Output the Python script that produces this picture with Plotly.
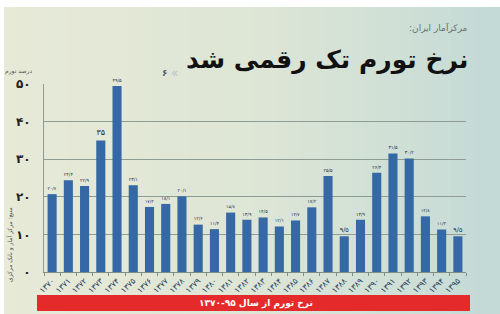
import plotly.graph_objects as go

years = list(range(1370, 1396))
inflation = [20.7, 24.4, 22.9, 35, 49.5, 23.1, 17.3, 18.1, 20.1, 12.6, 11.4, 15.8, 13.9,
             14.5, 12.1, 13.7, 17.2, 25.5, 9.5, 13.9, 26.4, 31.5, 30.2, 14.8, 11.3, 9.5]
y_ticks = [0, 10, 20, 30, 40, 50]

title_text = "نرخ تورم تک رقمی شد"
subtitle_text = "مرکزآمار ایران:\u200f"
y_title = "درصد تورم"
source_text = "منبع: مرکز آمار و بانک مرکزی"
banner_text = "نرخ تورم از سال ۹۵-۱۳۷۰"

FA = str.maketrans("0123456789.", "۰۱۲۳۴۵۶۷۸۹/")


def fa_num(v):
    return f"{v:g}".translate(FA)


cats = [fa_num(y) for y in years]
labels = [fa_num(v) for v in inflation]

W, H = 500, 314
L, R, T, B = 44, 34, 84, 42
PW, PH = W - L - R, H - T - B


def px(x):
    return (x - L) / PW


def py(y):
    return (H - B - y) / PH


FONT = "DejaVu Sans"

fig = go.Figure()
fig.add_trace(go.Bar(
    x=cats, y=inflation, marker=dict(color="#3568a4", line=dict(width=0)),
    text=labels, textposition="outside", cliponaxis=False,
    textfont=dict(family=FONT, size=8, color="#1d2c4c"),
    hoverinfo="skip",
))

shapes = []
stops = [(0.0, (232, 234, 216)), (0.5, (222, 230, 214)), (0.8, (208, 224, 214)), (1.0, (196, 218, 214))]


def lerp_color(t):
    for i in range(len(stops) - 1):
        a, ca = stops[i]
        b, cb = stops[i + 1]
        if a <= t <= b:
            f = (t - a) / (b - a)
            return "rgb(%d,%d,%d)" % tuple(int(ca[k] + (cb[k] - ca[k]) * f) for k in range(3))
    return "rgb(%d,%d,%d)" % stops[-1][1]


N = 40
x0p, x1p = 4, 500
for i in range(N):
    a = x0p + (x1p - x0p) * i / N
    b = x0p + (x1p - x0p) * (i + 1) / N + 0.8
    shapes.append(dict(type="rect", xref="paper", yref="paper", x0=px(a), x1=px(b),
                       y0=py(314), y1=py(7), fillcolor=lerp_color(i / (N - 1)),
                       line=dict(width=0), layer="below"))
shapes.append(dict(type="rect", xref="paper", yref="paper", x0=px(37), x1=px(470),
                   y0=py(311), y1=py(295), fillcolor="#e52a2c", line=dict(width=0), layer="above"))


def ann(text, x, y, size, color, xanchor="center", angle=0):
    return dict(text=text, x=px(x), y=py(y), xref="paper", yref="paper",
                xanchor=xanchor, yanchor="middle", textangle=angle,
                font=dict(family=FONT, size=size, color=color), showarrow=False)


annotations = [
    ann("<b>" + title_text + "</b>", 470, 60, 25, "#111111", "right"),
    ann(subtitle_text, 470, 27, 9, "#6a6f6a", "right"),
    ann(y_title, 34, 71, 6, "#555555", "right"),
    ann(source_text, 10, 245, 6, "#555555", "center", -90),
    ann("<b>" + banner_text + "</b>", 256, 303, 9, "#ffffff"),
    ann("«", 174, 73, 12, "#b9c3cc"),
    ann("<b>۶</b>", 165, 73, 9, "#556070"),
]

fig.update_layout(
    width=W, height=H, margin=dict(l=L, r=R, t=T, b=B),
    paper_bgcolor="#ffffff", plot_bgcolor="rgba(0,0,0,0)",
    bargap=0.44, showlegend=False, shapes=shapes, annotations=annotations,
    font=dict(family=FONT),
)
fig.update_xaxes(
    type="category", tickangle=-45, tickfont=dict(family=FONT, size=8, color="#24385a"),
    showgrid=False, showline=True, linecolor="#7f8f88", linewidth=1,
    ticks="outside", ticklen=3, tickcolor="#7f8f88", tickson="boundaries",
    range=[-0.5, len(cats) - 0.5],
)
fig.update_yaxes(
    range=[0, 50], tickvals=y_ticks, ticktext=["<b>" + fa_num(v) + "</b>" for v in y_ticks],
    tickfont=dict(family=FONT, size=12, color="#222222"),
    showgrid=True, gridcolor="#8e9c94", gridwidth=1,
    showline=True, linecolor="#8e9c94", linewidth=1,
    ticks="outside", ticklen=10, tickcolor="rgba(0,0,0,0)",
    zeroline=False,
)
fig.write_html("out.html")
